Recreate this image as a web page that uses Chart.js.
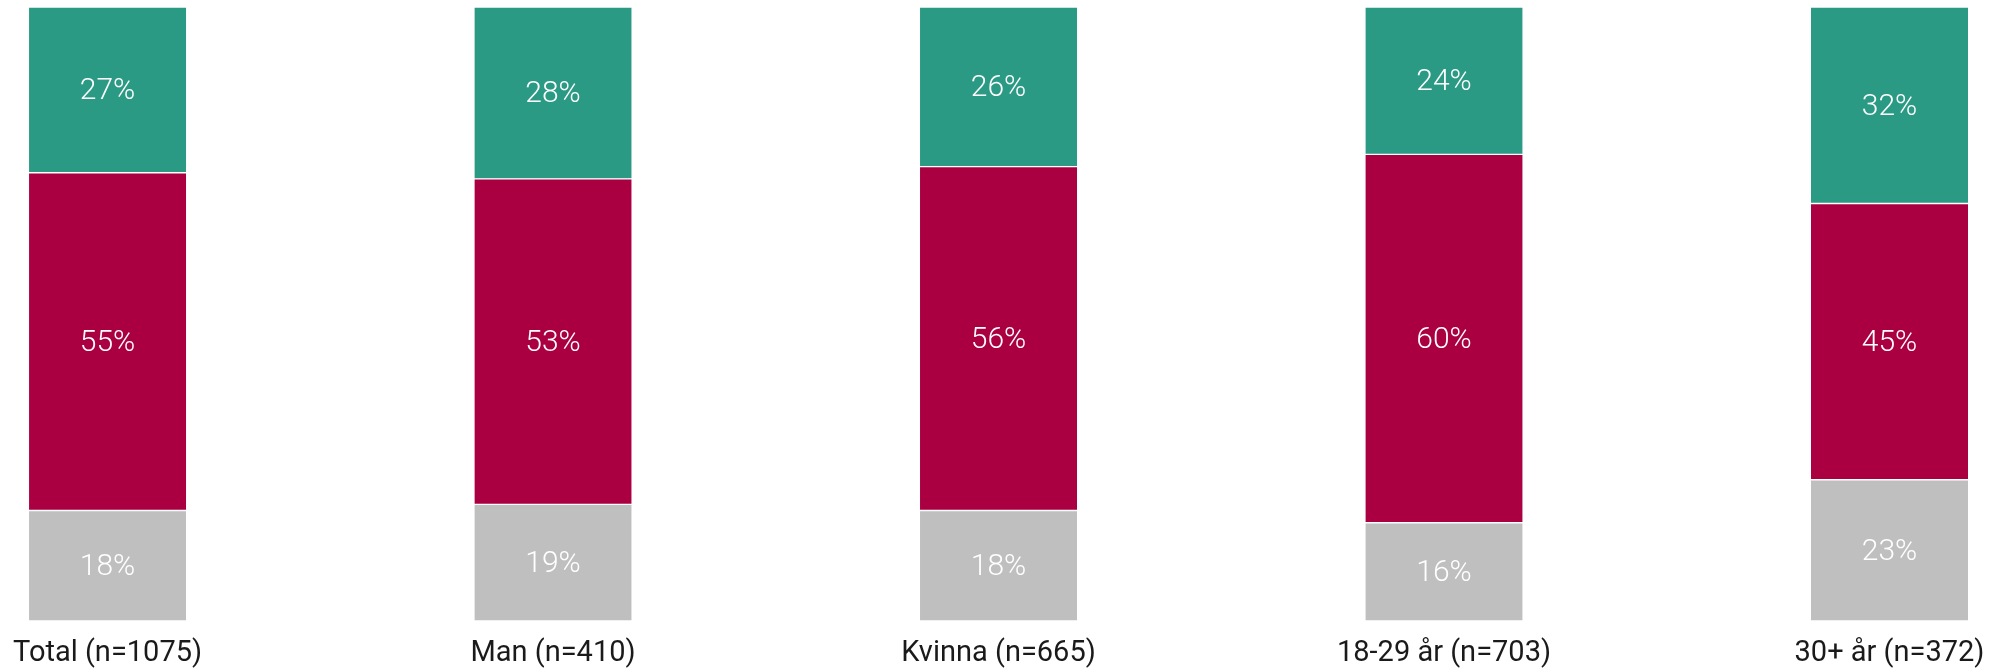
<!doctype html>
<html lang="sv">
  <head>
    <meta charset="utf-8">
    <title>Stacked bars</title>
    <style>
      * {
        margin: 0;
        padding: 0;
      }
      body {
        background: #fff;
        width: 1998px;
        height: 670px;
        overflow: hidden;
      }
    </style>
  </head>
  <body>
    <canvas id="myChart" width="1998" height="670"></canvas>
    <script src="https://cdn.jsdelivr.net/npm/chart.js/dist/chart.umd.min.js"></script>
    <script>

    // data (percent per group)
    const categories = ['Total (n=1075)', 'Man (n=410)', 'Kvinna (n=665)', '18-29 år (n=703)', '30+ år (n=372)'];
    const grayValues = [18, 19, 18, 16, 23];
    const redValues = [55, 53, 56, 60, 45];
    const greenValues = [27, 28, 26, 24, 32];

    const fontFamily = 'Roboto, "Noto Sans", sans-serif';

    // writes the value in the middle of each segment
    const segmentLabels = {
        id: 'segmentLabels',
        afterDatasetsDraw: (chart) => {
            const ctx = chart.ctx;
            ctx.save();
            ctx.fillStyle = '#ffffff';
            ctx.font = '300 30px ' + fontFamily;
            ctx.textAlign = 'center';
            ctx.textBaseline = 'middle';
            chart.data.datasets.forEach((ds, i) => {
                const meta = chart.getDatasetMeta(i);
                meta.data.forEach((bar, j) => {
                    const y = (bar.y + bar.base) / 2 + 2;
                    ctx.fillText(ds.data[j] + '%', bar.x, y);
                });
            });
            ctx.restore();
        }
    };

    const border = {top: 1, bottom: 1, left: 0, right: 0};

    const data = {
        labels: categories,
        datasets: [
            {
                label: 'gray',
                data: grayValues,
                backgroundColor: '#bfbfbf',
                borderColor: '#ffffff',
                borderWidth: border,
                borderSkipped: false,
                clip: false
            },
            {
                label: 'red',
                data: redValues,
                backgroundColor: '#aa0042',
                borderColor: '#ffffff',
                borderWidth: border,
                borderSkipped: false,
                clip: false
            },
            {
                label: 'green',
                data: greenValues,
                backgroundColor: '#2a9a84',
                borderColor: '#ffffff',
                borderWidth: border,
                borderSkipped: false,
                clip: false
            }
        ]
    };

    const config = {
        type: 'bar',
        data,
        options: {
            responsive: false,
            animation: false,
            devicePixelRatio: 1,
            barThickness: 157,
            layout: {
                padding: {left: 100, right: 108.5, top: 7, bottom: 0}
            },
            plugins: {
                legend: {display: false},
                tooltip: {enabled: false}
            },
            scales: {
                x: {
                    stacked: true,
                    offset: false,
                    grid: {display: false, drawTicks: false},
                    border: {display: false},
                    afterFit: (scale) => {
                        scale.height = 49;
                    },
                    ticks: {
                        color: '#1a1a1a',
                        padding: 13,
                        maxRotation: 0,
                        autoSkip: false,
                        font: {family: fontFamily, size: 29, lineHeight: 1.35}
                    }
                },
                y: {
                    stacked: true,
                    display: false,
                    min: 0,
                    max: 100
                }
            }
        },
        plugins: [segmentLabels]
    };

    const myChart = new Chart(document.getElementById('myChart'), config);

    </script>
  </body>
</html>
